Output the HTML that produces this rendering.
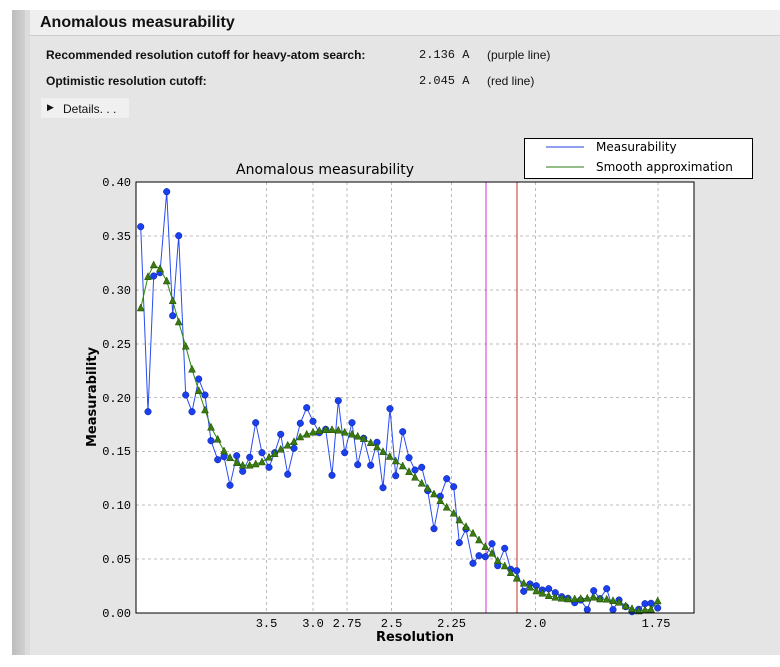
<!DOCTYPE html>
<html><head><meta charset="utf-8"><style>
body{margin:0;width:780px;height:667px;background:#fff;position:relative;overflow:hidden;font-family:"Liberation Sans",sans-serif;}
.strip{position:absolute;left:12px;top:10px;width:13px;height:645px;background:linear-gradient(to right,#bdbdbd,#d0d0d0);}
.strip2{position:absolute;left:25px;top:10px;width:5px;height:645px;background:#dcdcdc;}
.head{position:absolute;left:30px;top:10px;width:750px;height:25px;background:#efefef;border-bottom:1px solid #ccc;}
.panel{position:absolute;left:30px;top:36px;width:750px;height:619px;background:#e5e5e5;}
.t{position:absolute;font-size:12px;color:#111;white-space:nowrap;}
</style></head><body>
<div class="strip"></div><div class="strip2"></div>
<div class="head"></div>
<div class="panel"></div>
<div class="t" style="left:40px;top:14px;font-size:16px;font-weight:bold;">Anomalous measurability</div>
<div class="t" style="left:46px;top:48px;font-weight:bold;">Recommended resolution cutoff for heavy-atom search:</div>
<div class="t" style="left:419px;top:48px;font-family:'Liberation Mono',monospace;">2.136 A</div>
<div class="t" style="left:487px;top:48px;">(purple line)</div>
<div class="t" style="left:46px;top:74px;font-weight:bold;">Optimistic resolution cutoff:</div>
<div class="t" style="left:419px;top:74px;font-family:'Liberation Mono',monospace;">2.045 A</div>
<div class="t" style="left:487px;top:74px;">(red line)</div>
<div style="position:absolute;left:41px;top:98px;width:88px;height:20px;background:#f0f0f0;"></div>
<div class="t" style="left:47px;top:102px;font-size:9px;">▶</div>
<div class="t" style="left:63px;top:102px;">Details. . .</div>
<svg width="780" height="667" style="position:absolute;left:0;top:0" font-family="Liberation Mono, monospace">
<rect x="136" y="182" width="558" height="431" fill="#fff"/>
<g stroke="#bbb" stroke-dasharray="3,3" stroke-width="1">
<line x1="136" x2="694" y1="236" y2="236"/><line x1="136" x2="694" y1="290" y2="290"/><line x1="136" x2="694" y1="344" y2="344"/><line x1="136" x2="694" y1="397.5" y2="397.5"/><line x1="136" x2="694" y1="451.5" y2="451.5"/><line x1="136" x2="694" y1="505" y2="505"/><line x1="136" x2="694" y1="559" y2="559"/>
<line y1="182" y2="613" x1="266.5" x2="266.5"/><line y1="182" y2="613" x1="313" x2="313"/><line y1="182" y2="613" x1="347" x2="347"/><line y1="182" y2="613" x1="391.5" x2="391.5"/><line y1="182" y2="613" x1="451.5" x2="451.5"/><line y1="182" y2="613" x1="535.5" x2="535.5"/><line y1="182" y2="613" x1="658" x2="658"/>
</g>
<line x1="486" x2="486" y1="182" y2="613" stroke="#d030d0"/>
<line x1="517" x2="517" y1="182" y2="613" stroke="#c03020"/>
<polyline fill="none" stroke="#2a4cf0" stroke-width="1" points="140.7,226.7 148,411.7 153.7,276 160,272.7 166.7,191.7 172.7,315.7 178.7,235.7 185.7,395 192,411.7 198.7,379 205,395 211,440.7 217.7,459.7 224,456.7 230,485.3 236.7,455.7 242.7,471.3 249.7,457.3 255.7,422.7 262,452.7 269,467.3 274.7,452.7 280.7,434.3 287.7,474.3 294,448.3 300.3,423.3 306.7,407.7 313,421.3 319.3,432.7 325.7,429.3 332,475.3 338.3,400.7 344.7,452.7 352,422.7 357.7,464.7 363.7,438.3 370.7,465.3 377,442.3 383,487.7 390,408.7 395.7,475.7 402.7,431.7 409,457.7 415,470 421.7,467.3 427.7,490.7 434,528.7 440.3,496.3 446.7,478.7 453.7,486.7 459.3,542.7 466,529 473,563.3 479,555.7 485.3,556.7 492,543.7 497.7,565.7 504.7,548.3 510.7,569.3 516.7,570.7 523.7,591.3 530,584 536.3,585.7 542.3,590 548.7,588.7 555.3,592.7 561.7,596.7 568,598.3 574.7,602.7 580.7,600 587.3,609.7 593.7,590.7 600,598.7 606.7,588.7 613,609.7 619,600 625.7,606.7 632,611.7 638.7,609.3 645,603.7 651,603.3 657.7,608"/>
<g id="bd"></g>
<polyline fill="none" stroke="#2a8a10" stroke-width="1" points="140.7,308 148,276.7 153.7,265 160,268.7 166.7,281 172.7,300.7 178.7,322 185.7,346.3 192,369.3 198.7,390.7 205,410 211,427.3 217.7,439.3 224,451 230,457.7 236.7,462.7 242.7,465.3 249.7,465.3 255.7,464 262,462 269,457.3 274.7,453.7 280.7,449.3 287.7,445.3 294,441.7 300.3,437 306.7,434.3 313,432.3 319.3,430.7 325.7,429.7 332,429.7 338.3,430.3 344.7,432.3 352,434.3 357.7,436.3 363.7,438.7 370.7,442.7 377,447 383,451.7 389.7,456.5 395.7,461 402.7,466 409,471.7 415,477.3 421.7,483.3 427.7,488.3 434,494 440.3,500.7 446.7,507.3 453.7,513.3 459.3,520 466,526.7 473,533.3 479,540 485.3,546.7 492,553.3 497.7,560.7 504.7,566 510.7,572.7 516.7,578.3 523.7,583.3 530,587.3 536.3,591 542.3,593.3 548.7,595.7 555.3,597.3 561.7,598.3 568,599 574.7,599 580.7,598.7 587.3,598.3 593.7,597.3 600,599 606.7,599.3 613,600.7 619,602.3 625.7,606 632,608.7 638.7,611 645,610 651,609.3 657.7,601"/>
<g id="gd"></g>
<rect x="136" y="182" width="558" height="431" fill="none" stroke="#000"/>
<g font-size="12" fill="#000" text-anchor="end">
<text x="131" y="186">0.40</text><text x="131" y="240">0.35</text><text x="131" y="294">0.30</text><text x="131" y="348">0.25</text><text x="131" y="402">0.20</text><text x="131" y="455">0.15</text><text x="131" y="509">0.10</text><text x="131" y="563">0.05</text><text x="131" y="617">0.00</text>
</g>
<g font-size="12" fill="#000" text-anchor="middle">
<text x="266.5" y="627">3.5</text><text x="313" y="627">3.0</text><text x="347" y="627">2.75</text><text x="391.5" y="627">2.5</text><text x="451.5" y="627">2.25</text><text x="535.5" y="627">2.0</text><text x="656" y="627">1.75</text>
</g>
<text x="415" y="641" font-size="13" font-weight="bold" text-anchor="middle" font-family="DejaVu Sans, sans-serif">Resolution</text>
<text x="96" y="397" font-size="13" font-weight="bold" text-anchor="middle" font-family="DejaVu Sans, sans-serif" transform="rotate(-90 96 397)">Measurability</text>
<text x="325" y="174" font-size="14" text-anchor="middle" font-family="DejaVu Sans, sans-serif">Anomalous measurability</text>
<rect x="524.5" y="138.5" width="228" height="40" fill="#fff" stroke="#000"/>
<line x1="546" x2="584" y1="147" y2="147" stroke="#2040e0"/>
<line x1="546" x2="584" y1="167" y2="167" stroke="#2a7a10"/>
<text x="596" y="151" font-size="12" font-family="DejaVu Sans, sans-serif">Measurability</text>
<text x="596" y="171" font-size="12" font-family="DejaVu Sans, sans-serif">Smooth approximation</text>
</svg>
<script>
(function(){
var ns="http://www.w3.org/2000/svg";
var pl=document.querySelectorAll("polyline");
var b=pl[0].getAttribute("points").trim().split(/\s+/);
var gr=pl[1].getAttribute("points").trim().split(/\s+/);
var bd=document.getElementById("bd"),gd=document.getElementById("gd");
b.forEach(function(p){var a=p.split(",");var c=document.createElementNS(ns,"circle");c.setAttribute("cx",a[0]);c.setAttribute("cy",a[1]);c.setAttribute("r","3.3");c.setAttribute("fill","#1a3ff0");c.setAttribute("stroke","#0a1f90");c.setAttribute("stroke-width","0.5");bd.appendChild(c);});
gr.forEach(function(p){var a=p.split(",");var x=+a[0],y=+a[1];var t=document.createElementNS(ns,"polygon");t.setAttribute("points",(x)+","+(y-4)+" "+(x-3.5)+","+(y+3)+" "+(x+3.5)+","+(y+3));t.setAttribute("fill","#3a7a10");t.setAttribute("stroke","#1a4a00");t.setAttribute("stroke-width","0.5");gd.appendChild(t);});
})();
</script>
</body></html>
